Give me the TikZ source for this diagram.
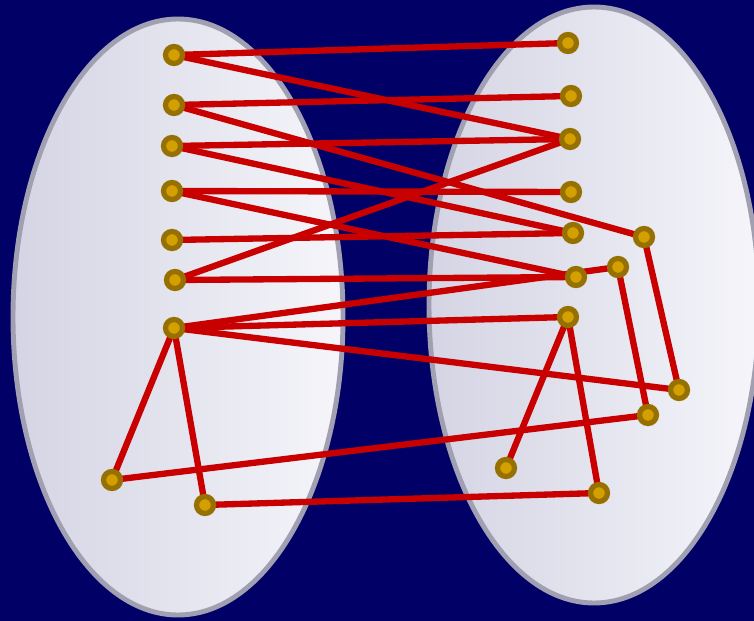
\documentclass[tikz,border=0pt]{standalone}
\definecolor{bgNavy}{RGB}{0,0,102}
\definecolor{setFillL}{RGB}{212,212,228}
\definecolor{setFillR}{RGB}{245,245,250}
\definecolor{setRim}{RGB}{160,160,178}
\definecolor{edgeRed}{RGB}{200,0,0}
\definecolor{dotGold}{RGB}{212,160,0}
\definecolor{dotRim}{RGB}{150,112,0}
\usepackage{tikz}
\usetikzlibrary{backgrounds}

\begin{document}
\begin{tikzpicture}[x=0.02cm, y=-0.02cm,
    vtx/.style={circle, fill=dotGold, draw=dotRim, line width=3pt, minimum size=0.34cm, inner sep=0pt},
    lnk/.style={edgeRed, line width=3.6pt}]
    \useasboundingbox (0,0) rectangle (754,621);
    \begin{scope}[on background layer]
        \fill[bgNavy] (0,0) rectangle (754,621);
        % the two sets
        \draw[left color=setFillL, right color=setFillR, draw=setRim, line width=2.8pt] (178,317) ellipse (165 and 298);
        \draw[left color=setFillL, right color=setFillR, draw=setRim, line width=2.8pt] (594,305) ellipse (165 and 298);
    \end{scope}

    % left set
    \node[vtx] (L1) at (174,55) {};
    \node[vtx] (L2) at (174,105) {};
    \node[vtx] (L3) at (172,146) {};
    \node[vtx] (L4) at (172,191) {};
    \node[vtx] (L5) at (172,240) {};
    \node[vtx] (L6) at (175,280) {};
    \node[vtx] (L7) at (174,328) {};
    \node[vtx] (L8) at (112,480) {};
    \node[vtx] (L9) at (205,505) {};

    % right set
    \node[vtx] (R1) at (568,43) {};
    \node[vtx] (R2) at (571,96) {};
    \node[vtx] (R3) at (570,139) {};
    \node[vtx] (R4) at (571,192) {};
    \node[vtx] (R5) at (573,233) {};
    \node[vtx] (R6) at (576,277) {};
    \node[vtx] (R7) at (568,317) {};
    \node[vtx] (R8) at (644,237) {};
    \node[vtx] (R9) at (618,267) {};
    \node[vtx] (R10) at (679,390) {};
    \node[vtx] (R11) at (648,415) {};
    \node[vtx] (R12) at (506,468) {};
    \node[vtx] (R13) at (599,493) {};

    \begin{scope}[on background layer]
        \draw[lnk] (L1.center) -- (R1.center);
        \draw[lnk] (L1.center) -- (R3.center);
        \draw[lnk] (L2.center) -- (R2.center);
        \draw[lnk] (L2.center) -- (R8.center);
        \draw[lnk] (L3.center) -- (R3.center);
        \draw[lnk] (L3.center) -- (R5.center);
        \draw[lnk] (L4.center) -- (R4.center);
        \draw[lnk] (L4.center) -- (R6.center);
        \draw[lnk] (L5.center) -- (R5.center);
        \draw[lnk] (L6.center) -- (R6.center);
        \draw[lnk] (L6.center) -- (R3.center);
        \draw[lnk] (L7.center) -- (R9.center);
        \draw[lnk] (L7.center) -- (R7.center);
        \draw[lnk] (L7.center) -- (R10.center);
        \draw[lnk] (L7.center) -- (L8.center);
        \draw[lnk] (L7.center) -- (L9.center);
        \draw[lnk] (L8.center) -- (R11.center);
        \draw[lnk] (L9.center) -- (R13.center);
        \draw[lnk] (R7.center) -- (R12.center);
        \draw[lnk] (R7.center) -- (R13.center);
        \draw[lnk] (R8.center) -- (R10.center);
        \draw[lnk] (R9.center) -- (R11.center);
    \end{scope}
\end{tikzpicture}
\end{document}
